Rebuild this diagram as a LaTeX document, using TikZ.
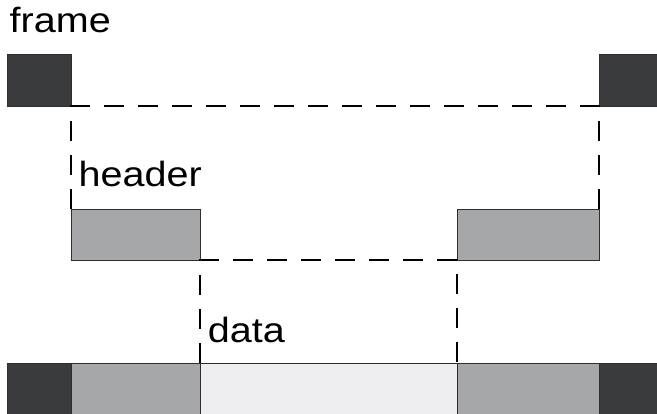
\documentclass[tikz,border=0pt]{standalone}
\usepackage{fontspec}
\setmainfont{Liberation Sans}
\definecolor{darkbox}{HTML}{3A3B3D}
\definecolor{graybox}{HTML}{A6A7A9}
\definecolor{lightbox}{HTML}{EEEEF0}
\definecolor{edge}{HTML}{2E2E30}
\tikzset{
  blk/.style={draw=edge, line width=0.9pt, inner sep=0pt, outer sep=0pt, anchor=north west, minimum width=#1},
  blk/.default=64pt,
  darkb/.style={fill=darkbox},
  grayb/.style={fill=graybox},
  lightb/.style={fill=lightbox},
  dashlink/.style={line width=2.2pt, dash pattern=on 20pt off 14pt},
  lbl/.style={anchor=base west, inner sep=0pt, font=\fontsize{35}{42}\selectfont}
}
\begin{document}
\begin{tikzpicture}[x=1pt,y=-1pt]
\useasboundingbox (0,0) rectangle (657,414);
% top row
\node[blk=64pt, darkb, minimum height=52pt] (tl) at (7,54) {};
\node[blk=60pt, darkb, minimum height=52pt] (tr) at (599,54) {};
% middle row
\node[blk=129pt, grayb, minimum height=51pt] (hl) at (71,209) {};
\node[blk=142pt, grayb, minimum height=51pt] (hr) at (457,209) {};
% bottom row
\node[blk=64pt, darkb, minimum height=55pt] (bl1) at (7,363) {};
\node[blk=129pt, grayb, minimum height=55pt] (bl2) at (71,363) {};
\node[blk=257pt, lightb, minimum height=55pt] (bd) at (200,363) {};
\node[blk=142pt, grayb, minimum height=55pt] (br2) at (457,363) {};
\node[blk=60pt, darkb, minimum height=55pt] (br1) at (599,363) {};
% dashed connectors
\draw[dashlink] (hl.north west) -- (tl.south east) -- (tr.south west) -- (hr.north east);
\draw[dashlink] (bd.north west) -- (hl.south east) -- (hr.south west) -- (bd.north east);
% labels
\node[lbl] (tframe) at (9.5,33) {\scalebox{1.13}[1]{frame}};
\node[lbl] (theader) at (78.5,187) {\scalebox{1.13}[1]{header}};
\node[lbl] (tdata) at (207.7,343) {\scalebox{1.13}[1]{data}};
\end{tikzpicture}
\end{document}
